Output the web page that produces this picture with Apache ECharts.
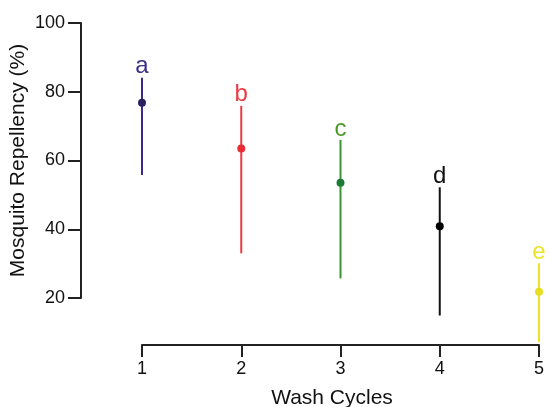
<!DOCTYPE html>
<html>
<head>
<meta charset="utf-8">
<script src="https://cdn.jsdelivr.net/npm/echarts@6/dist/echarts.min.js"></script>
<style>
  html, body { margin: 0; padding: 0; background: #fff; }
  #chart { width: 550px; height: 407px; }
</style>
</head>
<body>
<div id="chart"></div>
<script>
var washCycles = [1, 2, 3, 4, 5];
var meanValues = [76.8, 63.5, 53.5, 40.9, 21.8];
var lowValues = [55.8, 33.0, 25.7, 14.9, 7.2];
var highValues = [84.1, 75.9, 66.0, 52.2, 30.1];
var groupLetters = ['a', 'b', 'c', 'd', 'e'];
var yTicks = [20, 40, 60, 80, 100];

var lineColors = ['#3b2a8c', '#ee3a45', '#3d9232', '#111111', '#ece325'];
var dotColors = ['#2b1f5e', '#ea2d35', '#1c7a36', '#000000', '#e6de1c'];
var letterColors = ['#3f2d8a', '#ee3a45', '#4a9a2a', '#111111', '#ece325'];

var myChart = echarts.init(document.getElementById('chart'));
var font = 'Liberation Sans, Arial, sans-serif';

var option = {
  backgroundColor: '#ffffff',
  animation: false,
  grid: [
    { left: 142, right: 11, top: 23, bottom: 62, outerBoundsMode: 'none' },
    { left: 81, width: 1, top: 23, height: 275, outerBoundsMode: 'none' }
  ],
  xAxis: [
    {
      gridIndex: 0,
      type: 'value',
      min: 1,
      max: 5,
      interval: 1,
      splitLine: { show: false },
      axisLine: { lineStyle: { color: '#222', width: 2 } },
      axisTick: { length: 12, lineStyle: { color: '#222', width: 2 } },
      axisLabel: { color: '#111', fontSize: 18, fontFamily: font, margin: 15 },
      name: 'Wash Cycles',
      nameLocation: 'middle',
      nameGap: 43,
      nameTextStyle: { color: '#111', fontSize: 21, fontFamily: font, padding: [0, 17, 0, 0] }
    },
    { gridIndex: 1, type: 'value', show: false }
  ],
  yAxis: [
    {
      gridIndex: 0,
      type: 'value',
      min: 100 - 322 / 3.4375,
      max: 100,
      show: false
    },
    {
      gridIndex: 1,
      type: 'value',
      min: 20,
      max: 100,
      interval: 20,
      splitLine: { show: false },
      axisLine: { show: true, lineStyle: { color: '#222', width: 2 } },
      axisTick: { show: true, length: 13, lineStyle: { color: '#222', width: 2 } },
      axisLabel: {
        color: '#111', fontSize: 18, fontFamily: font, margin: 16,
        formatter: function (v) { return yTicks.indexOf(v) >= 0 ? String(v) : ''; }
      },
      name: 'Mosquito Repellency (%)',
      nameLocation: 'middle',
      nameGap: 52,
      nameTextStyle: { color: '#111', fontSize: 21, fontFamily: font }
    }
  ],
  series: [
    {
      type: 'custom',
      xAxisIndex: 0,
      yAxisIndex: 0,
      clip: false,
      data: washCycles.map(function (x, i) {
        return [x, meanValues[i], lowValues[i], highValues[i], i];
      }),
      renderItem: function (params, api) {
        var i = api.value(4);
        var mid = api.coord([api.value(0), api.value(1)]);
        var lo = api.coord([api.value(0), api.value(2)]);
        var hi = api.coord([api.value(0), api.value(3)]);
        return {
          type: 'group',
          children: [
            {
              type: 'line',
              shape: { x1: lo[0], y1: lo[1], x2: hi[0], y2: hi[1] },
              style: { stroke: lineColors[i], lineWidth: 2 }
            },
            {
              type: 'circle',
              shape: { cx: mid[0], cy: mid[1], r: 4 },
              style: { fill: dotColors[i] }
            },
            {
              type: 'text',
              x: hi[0],
              y: hi[1] + 1,
              style: {
                text: groupLetters[i],
                fill: letterColors[i],
                fontSize: 24,
                fontFamily: font,
                align: 'center',
                verticalAlign: 'bottom'
              }
            }
          ]
        };
      }
    }
  ]
};

option && myChart.setOption(option);
</script>
</body>
</html>
